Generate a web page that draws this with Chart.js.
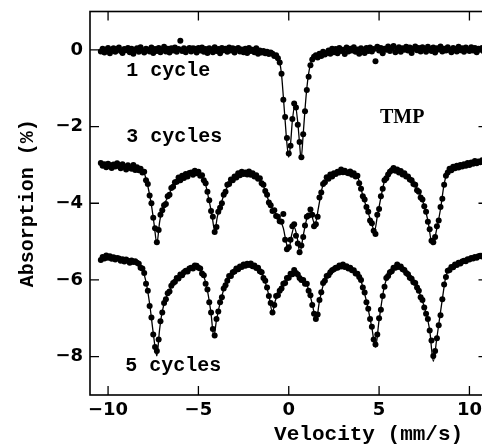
<!DOCTYPE html>
<html>
<head>
<meta charset="utf-8">
<script src="https://cdn.jsdelivr.net/npm/chart.js@4.4.1/dist/chart.umd.min.js"></script>
<style>
  html, body { margin: 0; padding: 0; background: #fff; overflow: hidden; }
  #wrap { width: 500px; height: 444px; }
</style>
</head>
<body>
<div id="wrap"><canvas id="chart" width="500" height="444"></canvas></div>
<script>
// Velocity channels (mm/s), one row per 1 mm/s
const velocity = [
  -10.4,-10.3,-10.2,-10.1,-10.0,-9.9,-9.8,-9.7,-9.6,-9.5,
  -9.4,-9.3,-9.2,-9.1,-9.0,-8.9,-8.8,-8.7,-8.6,-8.5,
  -8.4,-8.3,-8.2,-8.1,-8.0,-7.9,-7.8,-7.7,-7.6,-7.5,
  -7.4,-7.3,-7.2,-7.1,-7.0,-6.9,-6.8,-6.7,-6.6,-6.5,
  -6.4,-6.3,-6.2,-6.1,-6.0,-5.9,-5.8,-5.7,-5.6,-5.5,
  -5.4,-5.3,-5.2,-5.1,-5.0,-4.9,-4.8,-4.7,-4.6,-4.5,
  -4.4,-4.3,-4.2,-4.1,-4.0,-3.9,-3.8,-3.7,-3.6,-3.5,
  -3.4,-3.3,-3.2,-3.1,-3.0,-2.9,-2.8,-2.7,-2.6,-2.5,
  -2.4,-2.3,-2.2,-2.1,-2.0,-1.9,-1.8,-1.7,-1.6,-1.5,
  -1.4,-1.3,-1.2,-1.1,-1.0,-0.9,-0.8,-0.7,-0.6,-0.5,
  -0.4,-0.3,-0.2,-0.1,0.0,0.1,0.2,0.3,0.4,0.5,
  0.6,0.7,0.8,0.9,1.0,1.1,1.2,1.3,1.4,1.5,
  1.6,1.7,1.8,1.9,2.0,2.1,2.2,2.3,2.4,2.5,
  2.6,2.7,2.8,2.9,3.0,3.1,3.2,3.3,3.4,3.5,
  3.6,3.7,3.8,3.9,4.0,4.1,4.2,4.3,4.4,4.5,
  4.6,4.7,4.8,4.9,5.0,5.1,5.2,5.3,5.4,5.5,
  5.6,5.7,5.8,5.9,6.0,6.1,6.2,6.3,6.4,6.5,
  6.6,6.7,6.8,6.9,7.0,7.1,7.2,7.3,7.4,7.5,
  7.6,7.7,7.8,7.9,8.0,8.1,8.2,8.3,8.4,8.5,
  8.6,8.7,8.8,8.9,9.0,9.1,9.2,9.3,9.4,9.5,
  9.6,9.7,9.8,9.9,10.0,10.1,10.2,10.3,10.4,10.5,
  10.6,10.7,10.8,10.9
];

// 1 cycle - measured absorption (%)
const absorption1 = [
  -0.04,0.03,-0.07,0.01,0.05,-0.09,-0.02,0.04,-0.05,0.02,
  0.06,-0.03,-0.08,0.02,-0.01,0.05,-0.06,0.03,-0.10,0.00,
  0.04,-0.05,0.07,-0.02,-0.07,0.03,0.00,-0.04,0.06,-0.08,
  0.02,-0.03,0.05,-0.06,0.01,0.08,-0.04,0.03,-0.07,0.04,
  -0.02,0.06,-0.05,0.02,0.24,-0.03,0.04,-0.06,0.01,0.05,
  -0.04,0.04,0.03,-0.07,0.05,-0.02,0.06,-0.05,0.02,-0.08,
  0.04,0.00,-0.06,0.07,-0.03,0.02,-0.09,0.05,-0.01,0.03,
  -0.05,0.06,-0.02,0.04,-0.07,0.02,0.05,-0.04,0.01,-0.06,
  0.03,-0.08,0.05,-0.03,0.00,-0.06,0.04,-0.10,-0.02,-0.07,
  -0.03,-0.09,-0.05,-0.11,-0.07,-0.10,-0.16,-0.14,-0.22,-0.33,
  -0.62,-1.30,-1.75,-2.30,-2.70,-2.50,-1.80,-1.40,-1.50,-1.95,
  -2.40,-2.80,-2.20,-1.60,-1.05,-0.70,-0.40,-0.25,-0.18,-0.14,
  -0.20,-0.10,-0.16,-0.05,-0.12,-0.08,-0.02,-0.10,0.03,-0.06,
  0.02,-0.09,0.05,-0.03,0.00,-0.11,0.06,-0.04,0.03,-0.02,
  0.07,-0.05,0.01,-0.10,0.04,0.00,-0.08,0.05,-0.03,0.06,
  -0.04,0.02,-0.30,0.08,-0.02,0.05,-0.09,0.03,0.00,0.09,
  -0.03,0.05,0.10,-0.06,0.02,0.07,-0.05,0.04,0.00,0.08,
  -0.02,0.06,-0.08,0.03,0.09,-0.01,0.05,-0.04,0.07,0.01,
  -0.05,0.08,0.02,-0.03,0.06,-0.07,0.04,0.01,0.09,-0.04,
  0.03,-0.02,0.07,0.00,-0.06,0.05,0.02,-0.04,0.08,-0.01,
  0.04,-0.05,0.06,0.01,-0.03,0.07,-0.02,0.05,-0.06,0.03,
  0.00,0.05,-0.04,0.02
];

// 3 cycles - measured absorption (%)
const absorption2 = [
  -2.95,-3.02,-2.98,-3.06,-2.97,-3.01,-3.08,-2.99,-3.04,-2.96,
  -3.03,-3.09,-2.98,-3.05,-3.12,-3.01,-3.07,-3.10,-3.00,-3.13,
  -3.06,-3.14,-3.10,-3.20,-3.18,-3.40,-3.50,-3.80,-4.00,-4.38,
  -4.65,-5.02,-4.70,-4.30,-4.18,-4.05,-4.02,-3.82,-3.78,-3.60,
  -3.57,-3.45,-3.44,-3.33,-3.40,-3.28,-3.34,-3.24,-3.30,-3.21,
  -3.20,-3.26,-3.15,-3.22,-3.18,-3.28,-3.27,-3.40,-3.48,-3.70,
  -3.92,-4.20,-4.35,-4.75,-4.62,-4.22,-4.12,-4.00,-3.78,-3.70,
  -3.52,-3.50,-3.38,-3.40,-3.30,-3.33,-3.22,-3.27,-3.18,-3.24,
  -3.20,-3.25,-3.17,-3.26,-3.22,-3.30,-3.27,-3.36,-3.35,-3.48,
  -3.52,-3.68,-3.78,-3.98,-4.05,-4.20,-4.18,-4.33,-4.35,-4.47,
  -4.48,-4.28,-4.95,-5.20,-5.15,-4.95,-4.60,-4.55,-4.85,-5.05,
  -5.28,-5.10,-4.88,-4.58,-4.35,-4.32,-4.16,-4.30,-4.60,-4.55,
  -4.35,-3.85,-3.72,-3.50,-3.45,-3.32,-3.36,-3.25,-3.30,-3.22,
  -3.24,-3.18,-3.20,-3.12,-3.19,-3.15,-3.20,-3.22,-3.17,-3.26,
  -3.22,-3.30,-3.28,-3.48,-3.62,-3.82,-3.90,-4.10,-4.22,-4.45,
  -4.52,-4.72,-4.80,-4.30,-4.15,-3.82,-3.62,-3.40,-3.35,-3.25,
  -3.18,-3.14,-3.08,-3.15,-3.12,-3.20,-3.16,-3.25,-3.22,-3.30,
  -3.30,-3.38,-3.40,-3.50,-3.52,-3.66,-3.70,-3.85,-3.90,-4.08,
  -4.22,-4.48,-4.68,-4.98,-5.02,-4.88,-4.60,-4.45,-4.10,-3.88,
  -3.52,-3.28,-3.20,-3.10,-3.14,-3.05,-3.09,-3.02,-3.07,-3.00,
  -3.04,-2.98,-3.02,-2.95,-3.00,-2.94,-2.97,-2.90,-2.96,-2.91,
  -2.93,-2.88,-2.92,-2.87
];

// 5 cycles - measured absorption (%)
const absorption3 = [
  -5.48,-5.40,-5.44,-5.36,-5.42,-5.38,-5.45,-5.41,-5.47,-5.43,
  -5.44,-5.50,-5.46,-5.52,-5.47,-5.50,-5.55,-5.49,-5.53,-5.51,
  -5.55,-5.58,-5.68,-5.70,-5.82,-6.10,-6.28,-6.68,-6.98,-7.42,
  -7.75,-7.85,-7.55,-7.08,-6.85,-6.60,-6.50,-6.35,-6.30,-6.15,
  -6.08,-6.05,-5.95,-5.96,-5.86,-5.88,-5.80,-5.76,-5.78,-5.70,
  -5.68,-5.70,-5.62,-5.63,-5.68,-5.70,-5.83,-5.88,-6.10,-6.25,
  -6.58,-6.85,-7.28,-7.45,-7.02,-6.82,-6.58,-6.45,-6.22,-6.14,
  -6.02,-5.90,-5.90,-5.80,-5.78,-5.70,-5.72,-5.65,-5.66,-5.60,
  -5.63,-5.58,-5.61,-5.57,-5.64,-5.62,-5.69,-5.68,-5.77,-5.80,
  -5.95,-6.02,-6.20,-6.42,-6.60,-6.85,-6.65,-6.42,-6.40,-6.28,
  -6.22,-6.10,-6.08,-5.95,-5.94,-5.84,-5.85,-5.74,-5.82,-5.86,
  -5.95,-6.00,-6.00,-6.10,-6.10,-6.28,-6.40,-6.65,-6.88,-7.02,
  -6.90,-6.52,-6.32,-6.08,-6.02,-5.90,-5.88,-5.80,-5.75,-5.72,
  -5.68,-5.68,-5.62,-5.65,-5.60,-5.66,-5.64,-5.70,-5.68,-5.75,
  -5.75,-5.83,-5.84,-5.92,-6.00,-6.20,-6.33,-6.58,-6.75,-7.02,
  -7.22,-7.55,-7.68,-7.42,-7.00,-6.78,-6.42,-6.18,-5.95,-5.90,
  -5.80,-5.77,-5.68,-5.68,-5.60,-5.66,-5.65,-5.72,-5.74,-5.82,
  -5.85,-5.94,-5.97,-6.06,-6.08,-6.20,-6.28,-6.45,-6.52,-6.72,
  -6.88,-7.02,-7.32,-7.58,-7.98,-7.85,-7.52,-7.18,-6.92,-6.50,
  -6.12,-5.92,-5.76,-5.74,-5.66,-5.67,-5.60,-5.61,-5.55,-5.57,
  -5.52,-5.50,-5.51,-5.46,-5.47,-5.43,-5.44,-5.40,-5.42,-5.38,
  -5.37,-5.39,-5.35,-5.36
];

// Fitted curves (knots)
const fitVelocity1 = [-10.4, -2.0, -1.0, -0.7, -0.5, -0.4, -0.3, -0.2, -0.1, 0.0, 0.1, 0.2, 0.35, 0.5, 0.6, 0.68, 0.8, 0.9, 1.0, 1.1, 1.2, 1.35, 1.6, 2.2, 10.9];
const fit1 = [-0.01, -0.03, -0.07, -0.15, -0.33, -0.64, -1.22, -1.85, -2.45, -2.8, -2.45, -1.85, -1.42, -1.9, -2.45, -2.85, -2.2, -1.55, -1.0, -0.62, -0.38, -0.2, -0.1, -0.05, 0.0];

const fitVelocity2 = [-10.4, -9.0, -8.3, -8.0, -7.8, -7.6, -7.45, -7.3, -7.15, -7.0, -6.7, -6.4, -6.0, -5.5, -5.1, -4.8, -4.6, -4.4, -4.25, -4.1, -3.95, -3.8, -3.6, -3.3, -2.8, -2.2, -1.7, -1.4, -1.1, -0.8, -0.5, -0.3, -0.15, 0.0, 0.15, 0.3, 0.45, 0.62, 0.8, 1.0, 1.2, 1.45, 1.65, 1.85, 2.1, 2.6, 3.2, 3.8, 4.1, 4.4, 4.6, 4.75, 4.9, 5.1, 5.3, 5.6, 6.0, 6.5, 7.0, 7.4, 7.7, 7.95, 8.2, 8.4, 8.6, 8.8, 9.3, 10.0, 10.9];
const fit2 = [-3.0, -3.04, -3.1, -3.22, -3.55, -4.05, -4.55, -5.05, -4.5, -4.15, -3.85, -3.55, -3.4, -3.27, -3.22, -3.32, -3.52, -3.95, -4.3, -4.72, -4.35, -4.1, -3.8, -3.48, -3.27, -3.22, -3.33, -3.55, -3.95, -4.22, -4.42, -4.65, -5.0, -5.22, -4.85, -4.62, -4.85, -5.28, -4.85, -4.4, -4.25, -4.55, -4.1, -3.6, -3.36, -3.22, -3.16, -3.3, -3.8, -4.25, -4.55, -4.72, -4.35, -3.85, -3.42, -3.2, -3.12, -3.25, -3.55, -3.92, -4.45, -5.08, -4.65, -4.15, -3.5, -3.18, -3.05, -2.98, -2.9];

const fitVelocity3 = [-10.4, -9.5, -8.6, -8.3, -8.1, -7.9, -7.7, -7.5, -7.3, -7.15, -7.0, -6.8, -6.5, -6.0, -5.5, -5.1, -4.9, -4.7, -4.5, -4.3, -4.15, -4.0, -3.8, -3.5, -3.0, -2.2, -1.7, -1.4, -1.1, -0.9, -0.75, -0.5, -0.2, 0.3, 0.7, 1.0, 1.3, 1.52, 1.7, 2.0, 2.5, 3.0, 3.5, 3.9, 4.3, 4.6, 4.8, 5.0, 5.3, 5.6, 6.0, 6.5, 7.0, 7.5, 7.8, 8.0, 8.2, 8.5, 8.7, 9.0, 9.5, 10.0, 10.9];
const fit3 = [-5.43, -5.44, -5.52, -5.6, -5.72, -6.05, -6.62, -7.38, -7.98, -7.3, -6.82, -6.48, -6.18, -5.89, -5.73, -5.64, -5.72, -5.9, -6.28, -6.88, -7.48, -7.05, -6.6, -6.12, -5.77, -5.6, -5.7, -5.92, -6.4, -6.85, -6.55, -6.3, -6.05, -5.78, -5.98, -6.12, -6.62, -7.05, -6.55, -6.0, -5.73, -5.63, -5.73, -5.9, -6.55, -7.25, -7.75, -7.05, -6.15, -5.81, -5.63, -5.8, -6.1, -6.7, -7.3, -8.12, -7.5, -6.5, -5.9, -5.68, -5.55, -5.48, -5.36];

// Axis ticks
const xTickValues = [-10, -5, 0, 5, 10];
const yTickValues = [-8, -6, -4, -2, 0];

// Text labels inside the plot (placed in data units)
const labelTexts = ['1 cycle', '3 cycles', '5 cycles'];
const labelX = [-9.0, -9.0, -9.05];
const labelY = [-0.68, -2.41, -8.37];

function toPoints(xs, ys) {
  return xs.map((v, i) => ({ x: v, y: ys[i] }));
}

// minus sign like the original figure
function tickText(v) {
  return v < 0 ? '\u2212' + Math.abs(v) : String(v);
}

function pointSet(values) {
  return {
    data: toPoints(velocity, values),
    showLine: false,
    pointRadius: 3,
    pointBackgroundColor: '#000',
    pointBorderWidth: 0
  };
}

function fitSet(xs, values) {
  return {
    data: toPoints(xs, values),
    showLine: true,
    borderColor: '#000',
    borderWidth: 1.3,
    pointRadius: 0,
    cubicInterpolationMode: 'monotone'
  };
}

// Frame, inward ticks and the text inside the plot
const frameAndLabels = {
  id: 'frameAndLabels',
  afterDraw(chart) {
    const ctx = chart.ctx;
    const area = chart.chartArea;
    const xs = chart.scales.x;
    const ys = chart.scales.y;
    ctx.save();
    ctx.strokeStyle = '#000';
    ctx.lineWidth = 1.6;
    ctx.strokeRect(area.left, area.top, area.right - area.left, area.bottom - area.top);

    ctx.lineWidth = 1.3;
    ctx.beginPath();
    xTickValues.forEach(v => {
      const px = xs.getPixelForValue(v);
      ctx.moveTo(px, area.bottom); ctx.lineTo(px, area.bottom - 9);
      ctx.moveTo(px, area.top); ctx.lineTo(px, area.top + 9);
    });
    yTickValues.forEach(v => {
      const py = ys.getPixelForValue(v);
      ctx.moveTo(area.left, py); ctx.lineTo(area.left + 9, py);
      ctx.moveTo(area.right, py); ctx.lineTo(area.right - 9, py);
    });
    ctx.stroke();

    ctx.fillStyle = '#000';
    ctx.textAlign = 'left';
    ctx.textBaseline = 'alphabetic';
    ctx.font = 'bold 20px "Liberation Mono", monospace';
    labelTexts.forEach((t, i) => {
      ctx.fillText(t, xs.getPixelForValue(labelX[i]), ys.getPixelForValue(labelY[i]));
    });
    ctx.font = 'bold 20px "Liberation Serif", serif';
    ctx.fillText('TMP', xs.getPixelForValue(5.05), ys.getPixelForValue(-1.92));

    ctx.font = 'bold 21px "Liberation Mono", monospace';
    ctx.fillText('Velocity (mm/s)', xs.getPixelForValue(-0.81), area.bottom + 45);
    ctx.restore();
  }
};

const tickFont = { family: '"DejaVu Sans", sans-serif', size: 18, weight: 'bold' };

new Chart(document.getElementById('chart'), {
  type: 'scatter',
  data: {
    datasets: [
      pointSet(absorption1), fitSet(fitVelocity1, fit1),
      pointSet(absorption2), fitSet(fitVelocity2, fit2),
      pointSet(absorption3), fitSet(fitVelocity3, fit3)
    ]
  },
  options: {
    responsive: false,
    animation: false,
    events: [],
    layout: { padding: { left: 0, top: 11.5, right: 12.5, bottom: 0 } },
    plugins: { legend: { display: false }, tooltip: { enabled: false } },
    scales: {
      x: {
        type: 'linear',
        min: -11,
        max: 11,
        grid: { display: false, drawTicks: false },
        border: { display: false },
        afterBuildTicks: s => { s.ticks = xTickValues.map(v => ({ value: v })); },
        afterFit: s => { s.height = 49; s.paddingLeft = 0; s.paddingRight = 0; },
        ticks: { padding: 5, color: '#000', font: tickFont, maxRotation: 0, callback: v => tickText(v) }
      },
      y: {
        type: 'linear',
        min: -9,
        max: 1,
        grid: { display: false, drawTicks: false },
        border: { display: false },
        afterBuildTicks: s => { s.ticks = yTickValues.map(v => ({ value: v })); },
        afterFit: s => { s.width = 90; s.paddingTop = 0; s.paddingBottom = 0; },
        ticks: { padding: 7, color: '#000', font: tickFont, callback: v => tickText(v) },
        title: {
          display: true,
          text: 'Absorption (%)',
          color: '#000',
          font: { family: '"Liberation Mono", monospace', size: 20, weight: 'bold' },
          padding: { top: 16, bottom: 0 }
        }
      }
    }
  },
  plugins: [frameAndLabels]
});
</script>
</body>
</html>
